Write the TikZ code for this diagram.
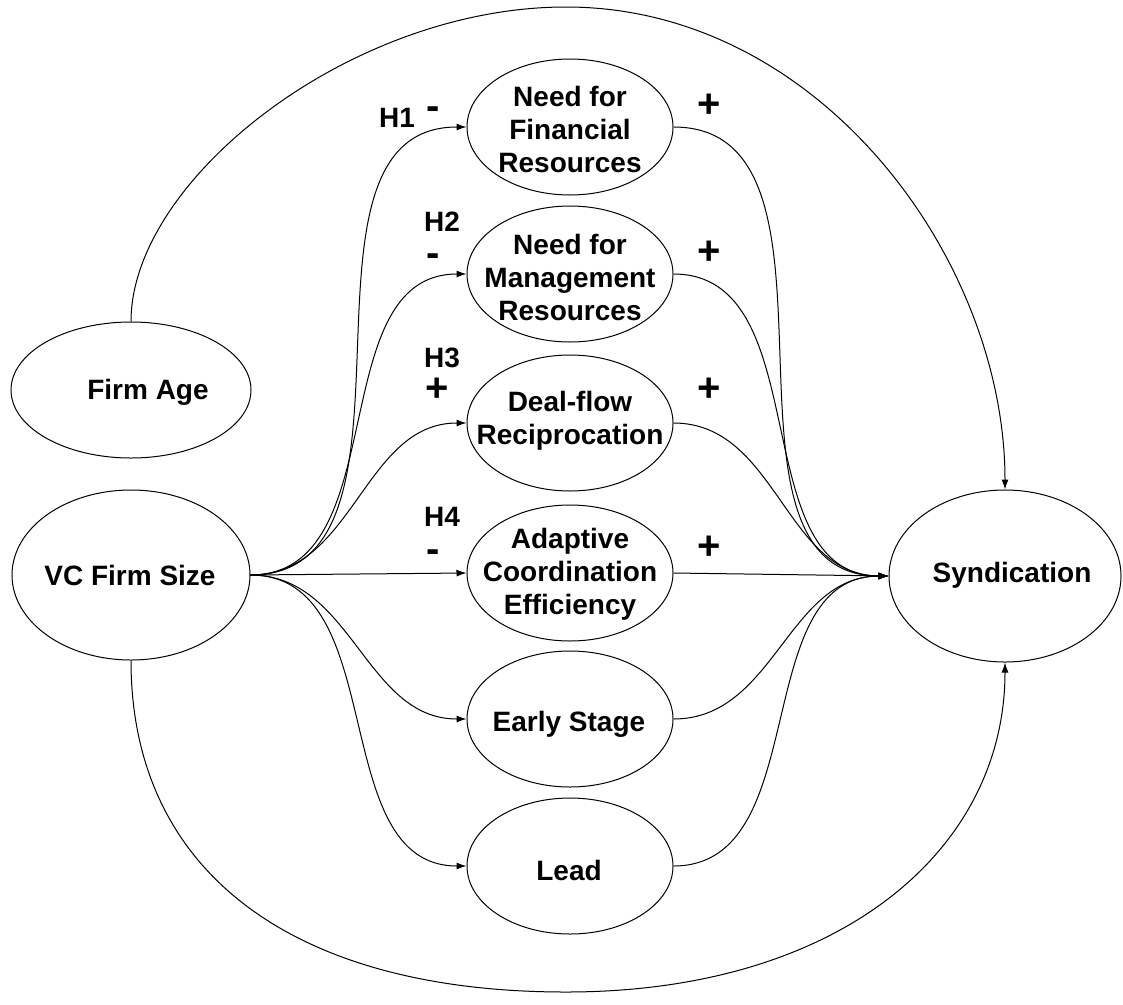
\documentclass[tikz,border=0pt]{standalone}
\usepackage{fontspec}
\setmainfont{Liberation Sans}
\usetikzlibrary{arrows.meta,shapes.geometric}
\begin{document}
\begin{tikzpicture}[x=1pt,y=-1pt,
  ell/.style={draw=black, line width=1pt, ellipse, inner sep=0pt, minimum width=206pt, minimum height=136pt},
  txt/.style={font=\bfseries\fontsize{28}{33}\selectfont, align=center, inner sep=0pt},
  sgn/.style={font=\bfseries\fontsize{40}{40}\selectfont, inner sep=0pt},
  conn/.style={line width=1pt, -{Latex[length=10pt,width=7pt]}}]
\useasboundingbox (0,0) rectangle (1123,1004);
\fill[white] (0,0) rectangle (1123,1004);

% left ellipses
\node[ell, minimum width=240pt, minimum height=136pt] (fa) at (131,390) {};
\node[txt] (fa-t) at (148,392) {Firm Age};
\node[ell, minimum width=238pt, minimum height=170pt] (vc) at (131,575) {};
\node[txt] (vc-t) at (130,575) {VC Firm Size};

% right ellipse
\node[ell, minimum width=232pt, minimum height=172pt] (syn) at (1005,576) {};
\node[txt] (syn-t) at (1012,575) {Syndication};

% middle ellipses
\node[ell] (nfr) at (570,127) {};
\node[txt] (nfr-t) at (570,129) {Need for\\Financial\\Resources};
\node[ell] (nmr) at (570,274) {};
\node[txt] (nmr-t) at (570,277) {Need for\\Management\\Resources};
\node[ell] (dfr) at (570,423) {};
\node[txt] (dfr-t) at (570,421) {Deal-flow\\Reciprocation};
\node[ell] (ace) at (570,573) {};
\node[txt] (ace-t) at (570,574) {Adaptive\\Coordination\\Efficiency};
\node[ell] (es) at (570,719) {};
\node[txt] (es-t) at (569,724) {Early Stage};
\node[ell] (ld) at (570,866) {};
\node[txt] (ld-t) at (569,870) {Lead};

% hypothesis labels
\node[txt] (h1) at (397,118) {H1};
\node[sgn] (h1s) at (433,113) {-};
\node[txt] (h2) at (442,222) {H2};
\node[sgn] (h2s) at (433,260) {-};
\node[txt] (h3) at (442,358) {H3};
\node[sgn] (h3s) at (437,390) {+};
\node[txt] (h4) at (442,517) {H4};
\node[sgn] (h4s) at (433,556) {-};

\node[sgn] (p1) at (709,106) {+};
\node[sgn] (p2) at (709,253) {+};
\node[sgn] (p3) at (709,390) {+};
\node[sgn] (p4) at (709,548) {+};

% fan from VC Firm Size
\draw[conn] (vc.east) to[out=0,in=180] (nfr.west);
\draw[conn] (vc.east) to[out=0,in=180] (nmr.west);
\draw[conn] (vc.east) to[out=0,in=180] (dfr.west);
\draw[conn] (vc.east) -- (ace.west);
\draw[conn] (vc.east) to[out=0,in=180] (es.west);
\draw[conn] (vc.east) to[out=0,in=180] (ld.west);

% fan into Syndication
\draw[conn] (nfr.east) to[out=0,in=180] (syn.west);
\draw[conn] (nmr.east) to[out=0,in=180] (syn.west);
\draw[conn] (dfr.east) to[out=0,in=180] (syn.west);
\draw[conn] (ace.east) -- (syn.west);
\draw[conn] (es.east) to[out=0,in=180] (syn.west);
\draw[conn] (ld.east) to[out=0,in=180] (syn.west);

% outer arcs
\coordinate (top) at (566,7);
\draw[conn] (fa.north) .. controls (131,180) and (350,7) .. (top) .. controls (820,7) and (1005,260) .. (syn.north);
\coordinate (bot) at (566,992);
\draw[conn] (vc.south) .. controls (131,870) and (290,992) .. (bot) .. controls (840,992) and (1005,850) .. (syn.south);
\end{tikzpicture}
\end{document}
